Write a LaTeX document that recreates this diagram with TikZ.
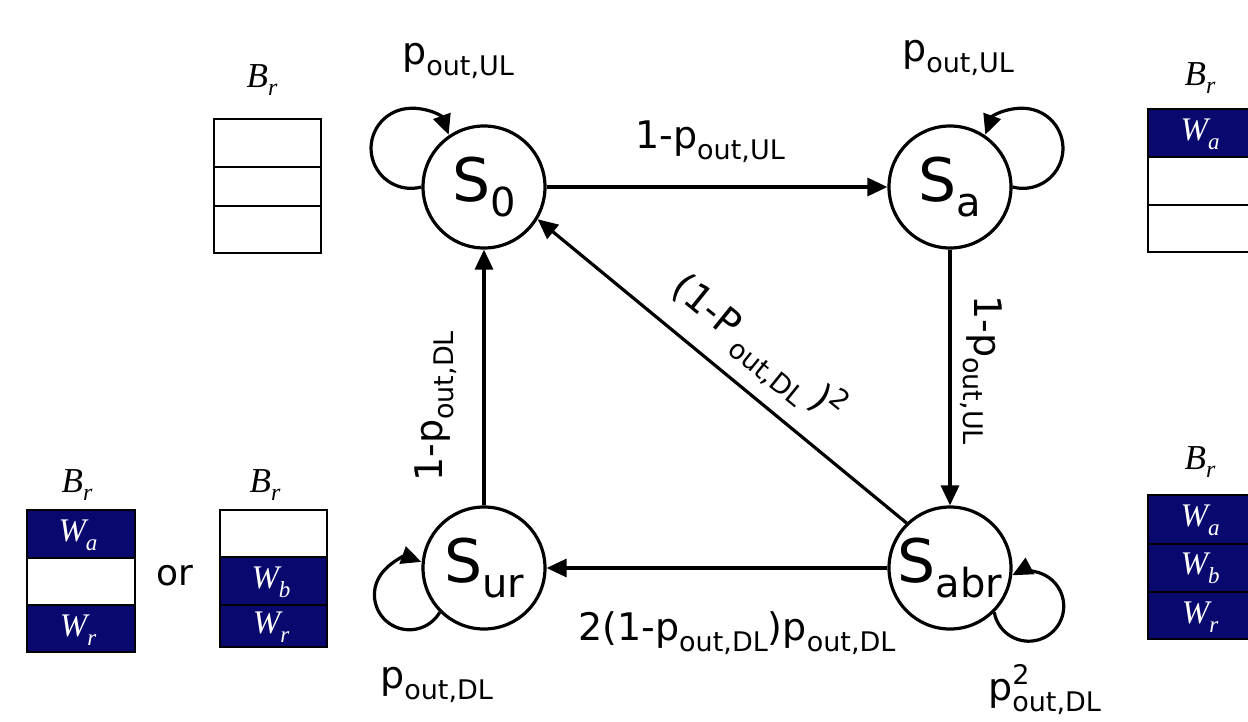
\documentclass[tikz,border=0pt]{standalone}
\usepackage{fontspec}
\setmainfont{DejaVu Sans}
\newfontfamily\tms{Liberation Serif}
\usetikzlibrary{arrows.meta}
\definecolor{bufnavy}{RGB}{8,8,110}
\newcommand{\mainf}{\fontsize{38}{44}\selectfont}
\newcommand{\subsf}{\fontsize{27}{32}\selectfont}
\newcommand{\lowsub}[1]{\raisebox{-11pt}{\subsf #1}}
\newcommand{\stt}[1]{{\fontsize{60}{62}\selectfont S}\raisebox{-15pt}{\fontsize{40}{44}\selectfont #1}}
\newcommand{\brl}{B\raisebox{-8pt}{\fontsize{24}{26}\selectfont r}}
\newcommand{\wl}[1]{W\raisebox{-9pt}{\fontsize{23}{26}\selectfont #1}}
\tikzset{
  state/.style={circle,draw,line width=3.2pt,minimum size=122pt,inner sep=0pt},
  arr/.style={line width=3.2pt,-{Triangle[length=20pt,width=18pt]}},
  lbl/.style={inner sep=0pt,anchor=base west,font=\mainf},
  cell/.style={draw,line width=2pt},
  full/.style={cell,fill=bufnavy},
  wtxt/.style={text=white,inner sep=0pt,font=\tms\itshape\fontsize{33}{36}\selectfont},
  btxt/.style={inner sep=0pt,font=\tms\itshape\fontsize{35}{40}\selectfont},
}
\begin{document}
\begin{tikzpicture}[x=1pt,y=-1pt]
\useasboundingbox (0,0) rectangle (1248,722);
\clip (0,0) rectangle (1248,722);
% states
\node[state] (S0) at (484,187) {\stt{0}};
\node[state] (Sa) at (950,187) {\stt{a}};
\node[state] (Sur) at (484,568) {\stt{ur}};
\node[state] (Sabr) at (950,568) {\stt{abr}};
% transitions
\draw[arr] (S0) -- (Sa);
\draw[arr] (Sa) -- (Sabr);
\draw[arr] (Sabr) -- (Sur);
\draw[arr] (Sur) -- (S0);
\draw[arr] (Sabr.134) -- (S0.-31);
% self loops
\draw[arr] (S0.180) arc[start angle=75,end angle=340,radius=40];
\draw[arr] (Sa.0) arc[start angle=105,end angle=-160,radius=40];
\draw[arr] (Sur.225) arc[start angle=30,end angle=290,radius=35];
\draw[arr] (Sabr.-45) arc[start angle=170,end angle=-118,radius=35];
% labels
\node[lbl] (l01) at (635,149) {1-p\lowsub{out,UL}};
\node[lbl] (l00) at (402,65) {p\lowsub{out,UL}};
\node[lbl] (laa) at (902,62) {p\lowsub{out,UL}};
\node[lbl] (lur) at (380,688) {p\lowsub{out,DL}};
\node[lbl] (lbb) at (988,700) {p\rlap{\raisebox{16pt}{\subsf 2}}\lowsub{out,DL}};
\node[lbl] (lbot) at (578,640) {2(1-p\lowsub{out,DL})p\lowsub{out,DL}};
\node[lbl,rotate=-90] (lright) at (974,295) {1-p\lowsub{out,UL}};
\node[lbl,rotate=90] (lleft) at (442,482) {1-p\lowsub{out,DL}};
\node[inner sep=0pt,font=\mainf,rotate=-39] (ldiag) at (757,350) {(1-P\,\lowsub{out,DL}\,)\raisebox{14pt}{\subsf 2}};
% buffer top-left
\draw[cell] (214,119) rectangle (321,167);
\draw[cell] (214,167) rectangle (321,206);
\draw[cell] (214,206) rectangle (321,253);
\node[btxt] (b1) at (262,80) {\brl};
% buffer top-right
\draw[full] (1148,109) rectangle (1262,157);
\draw[cell] (1148,157) rectangle (1262,205);
\draw[cell] (1148,205) rectangle (1262,252);
\node[btxt] (b2) at (1200,78) {\brl};
\node[wtxt] (w2a) at (1200,134) {\wl{a}};
% buffer bottom-left 1
\draw[full] (27,510) rectangle (135,558);
\draw[cell] (27,558) rectangle (135,605);
\draw[full] (27,605) rectangle (135,652);
\node[btxt] (b3) at (77,485) {\brl};
\node[wtxt] (w3a) at (78,535) {\wl{a}};
\node[wtxt] (w3r) at (78,630) {\wl{r}};
% or
\node[inner sep=0pt,font=\fontsize{36}{40}\selectfont] (or) at (175,576) {or};
% buffer bottom-left 2
\draw[cell] (220,510) rectangle (327,557);
\draw[full] (220,557) rectangle (327,605);
\draw[full] (220,605) rectangle (327,647);
\node[btxt] (b4) at (265,485) {\brl};
\node[wtxt] (w4b) at (271,582) {\wl{b}};
\node[wtxt] (w4r) at (271,627) {\wl{r}};
% buffer bottom-right
\draw[full] (1148,495) rectangle (1262,544);
\draw[full] (1148,544) rectangle (1262,592);
\draw[full] (1148,592) rectangle (1262,639);
\node[btxt] (b5) at (1200,462) {\brl};
\node[wtxt] (w5a) at (1200,520) {\wl{a}};
\node[wtxt] (w5b) at (1200,568) {\wl{b}};
\node[wtxt] (w5r) at (1200,617) {\wl{r}};
\end{tikzpicture}
\end{document}
